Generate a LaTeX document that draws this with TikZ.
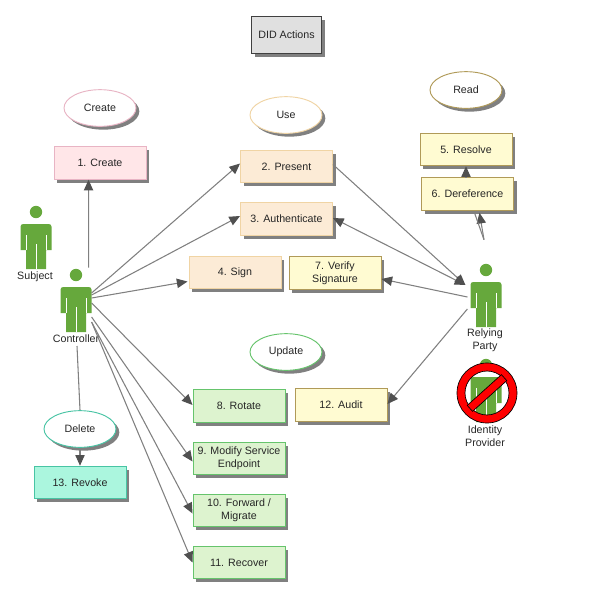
\documentclass[tikz,border=0pt]{standalone}
\usepackage{fontspec}
\setmainfont{Liberation Sans}
\usepackage{xcolor}
\usetikzlibrary{shapes, arrows.meta, positioning, calc, shapes.geometric, shadows}

\definecolor{pinkfill}{HTML}{FFE6E8}
\definecolor{pinkline}{HTML}{E8B4C4}
\definecolor{tanfill}{HTML}{FCEBD6}
\definecolor{tanline}{HTML}{F0D4A4}
\definecolor{yellowfill}{HTML}{FFFBD2}
\definecolor{yellowline}{HTML}{B09A58}
\definecolor{greenfill}{HTML}{DDF3CF}
\definecolor{greenline}{HTML}{66C46C}
\definecolor{cyanfill}{HTML}{ABF6DE}
\definecolor{cyanline}{HTML}{48C4A4}
\definecolor{personfill}{HTML}{66A83C}
\definecolor{linkgray}{HTML}{808080}
\definecolor{tipgray}{HTML}{505050}

\begin{document}
\begin{tikzpicture}[
    x=0.75pt, y=-0.75pt,
    every node/.style={font=\fontsize{8}{9.8}\selectfont, text=black!85, align=center},
    solidshadow/.style={general shadow={shadow xshift=2.5pt, shadow yshift=-2.5pt, fill=black!50}},
    box/.style={rectangle, draw, line width=0.7pt, minimum width=69pt, minimum height=24.5pt, inner sep=0pt, solidshadow},
    bubble/.style={ellipse, draw, fill=white, line width=0.7pt, minimum width=54pt, minimum height=27.5pt, inner sep=0pt, solidshadow},
    createbox/.style={box, fill=pinkfill, draw=pinkline},
    usebox/.style={box, fill=tanfill, draw=tanline},
    readbox/.style={box, fill=yellowfill, draw=yellowline},
    updatebox/.style={box, fill=greenfill, draw=greenline},
    deletebox/.style={box, fill=cyanfill, draw=cyanline},
    actor/.style={rectangle, minimum width=23pt, minimum height=34.5pt, inner sep=0pt},
    caption/.style={inner sep=0pt},
    link/.style={draw=linkgray, line width=0.8pt},
    arrow/.style={link, -{Triangle[length=8pt, width=7pt, fill=tipgray, color=tipgray]}},
    both/.style={link, {Triangle[length=8pt, width=7pt, fill=tipgray, color=tipgray]}-{Triangle[length=8pt, width=7pt, fill=tipgray, color=tipgray]}},
    person/.pic={
        \fill[personfill] (0,-33) circle (6.2);
        \fill[personfill, rounded corners=2pt] (-15.5,-8) -- (-15.5,-21) -- (15.5,-21) -- (15.5,-8)
            [sharp corners] -- (15.5,5) -- (10,5) -- (10,24) -- (-10,24) -- (-10,5) -- (-15.5,5) -- cycle;
        \draw[white, line width=0.4pt] (0,-1) -- (0,24) (-10,-10) -- (-10,5) (10,-10) -- (10,5);
    }
]
\useasboundingbox (0,0) rectangle (602,608);

% Title
\node[box, fill=black!12, draw=black!75, minimum width=53pt, minimum height=27.5pt] (title) at (286.5,35) {DID Actions};

% Create
\node[bubble, draw=pinkline] (createbubble) at (100,108) {Create};
\node[createbox] (create) at (100,163) {1. Create};

% Use
\node[bubble, draw=tanline] (usebubble) at (286,115) {Use};
\node[usebox] (present) at (286.5,166.5) {2. Present};
\node[usebox] (authenticate) at (286.5,219) {3. Authenticate};
\node[usebox] (sign) at (235,272.5) {4. Sign};

% Read
\node[bubble, draw=yellowline] (readbubble) at (466,90) {Read};
\node[readbox] (resolve) at (466,149.5) {5. Resolve};
\node[readbox] (dereference) at (467.5,194) {6. Dereference};
\node[readbox] (verify) at (335,273) {7. Verify\\Signature};
\node[readbox] (audit) at (341,405) {12. Audit};

% Update
\node[bubble, draw=greenline] (updatebubble) at (286,352) {Update};
\node[updatebox] (rotate) at (239,406) {8. Rotate};
\node[updatebox] (modify) at (239,458.5) {9. Modify Service\\Endpoint};
\node[updatebox] (forward) at (239,510.5) {10. Forward /\\Migrate};
\node[updatebox] (recover) at (239,562.5) {11. Recover};

% Delete
\node[bubble, draw=cyanline] (deletebubble) at (80,429) {Delete};
\node[deletebox] (revoke) at (80,482.5) {13. Revoke};

% People
\pic at (36,245) {person};
\node[actor] (subject) at (36,245) {};
\node[caption] (subjectlabel) at (35,277) {Subject};

\pic at (76,308) {person};
\node[actor] (controller) at (76,308) {};
\node[caption] (controllerlabel) at (76,339) {Controller};

\pic at (486,303) {person};
\node[actor] (relying) at (486,303) {};
\node[caption] (relyinglabel) at (485,340) {Relying\\Party};

\pic at (486,398) {person};
\node[actor] (identity) at (486,398) {};
\node[caption] (identitylabel) at (485,436) {Identity\\Provider};

% No sign
\fill[red, draw=black, line width=0.5pt, even odd rule] (487,393) circle (30) (487,393) circle (22);
\fill[red, draw=black, line width=0.5pt, rotate around={42:(487,393)}] (464,389) rectangle (510,397);

% Controller links
\draw[arrow] ($(controller.north east)+(-3,-17)$) -- ($(create.south west)+(35,0)$);
\draw[arrow] ($(controller.east)+(0,-15)$) -- ($(present.west)+(0,-3)$);
\draw[arrow] ($(controller.east)+(0,-13)$) -- ($(authenticate.west)+(0,-3)$);
\draw[arrow] ($(controller.east)+(0,-10)$) -- ($(sign.west)+(-1,9)$);
\draw[arrow] ($(controller.east)+(0,-5)$) -- ($(rotate.west)+(0,-1)$);
\draw[arrow] ($(controller.east)+(0,9)$) -- ($(modify.west)+(0,3)$);
\draw[arrow] ($(controller.east)+(0,14)$) -- ($(forward.west)+(0,3)$);
\draw[arrow] ($(controller.east)+(0,14)$) -- ($(recover.west)+(0,0)$);
\draw[link] (77,346) -- (deletebubble.north);
\draw[arrow] (deletebubble.south) -- (revoke.north);

% Relying party links
\draw[arrow] ($(present.east)+(0,-2)$) -- ($(relying.west)+(-5,-18)$);
\draw[both] ($(authenticate.east)+(0,-1)$) -- ($(relying.west)+(-5,-18)$);
\draw[arrow] ($(relying.west)+(-3,-6)$) -- ($(verify.east)+(0,6)$);
\draw[arrow] ($(relying.west)+(-3,6)$) -- ($(audit.east)+(0,-1)$);
\draw[arrow] ($(relying.north)+(-2,-40)$) -- ($(dereference.south)+(12,2)$);
\draw[link] ($(relying.north)+(-2,-40)$) -- ($(dereference.south)+(7,2)$);
\draw[arrow] (dereference.north -| resolve.south) -- (resolve.south);
\end{tikzpicture}
\end{document}
